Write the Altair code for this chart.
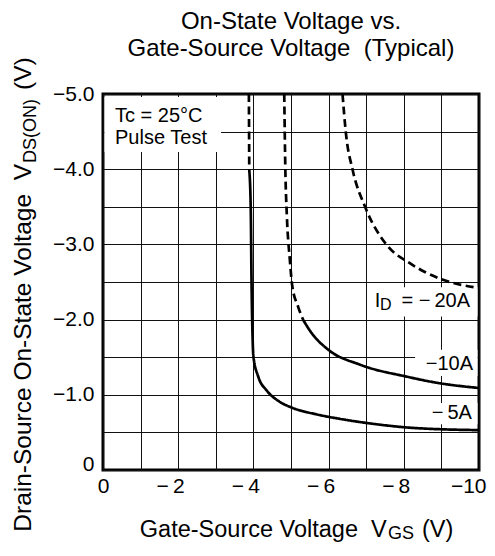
import altair as alt
import pandas as pd

FONT = "Liberation Sans"

# ---- curves (VGS in V, VDS(ON) in V) ----
vgs_5a_ext = [-3.88, -3.89]
vds_5a_ext = [-5.0, -3.99]
vgs_5a = [-3.89, -3.93, -3.95, -3.98, -4.00, -4.13, -4.35, -4.69, -5.02, -5.68, -6.30, -7.02, -8.24, -10.0]
vds_5a = [-3.99, -3.46, -2.53, -1.73, -1.51, -1.24, -1.06, -0.91, -0.83, -0.74, -0.68, -0.625, -0.56, -0.53]
vgs_10a_ext = [-4.82, -4.85, -4.89, -4.97, -5.03, -5.19, -5.33]
vds_10a_ext = [-5.0, -3.99, -3.38, -2.79, -2.46, -2.17, -1.99]
vgs_10a = [-5.33, -5.55, -5.99, -6.84, -8.09, -8.88, -10.0]
vds_10a = [-1.99, -1.82, -1.60, -1.40, -1.24, -1.16, -1.09]
vgs_20a = [-6.37, -6.46, -6.64, -6.97, -7.55, -8.16, -9.04, -10.0]
vds_20a = [-5.0, -4.48, -3.99, -3.50, -2.99, -2.75, -2.53, -2.42]

x_grid = [0, -1, -2, -3, -4, -5, -6, -7, -8, -9, -10]
y_grid = [0, -0.5, -1.0, -1.5, -2.0, -2.5, -3.0, -3.5, -4.0, -4.5, -5.0]

# white label backgrounds (data units)
box_x1 = [-0.04, -7.10, -8.30, -8.56]
box_x2 = [-3.14, -9.96, -9.96, -9.96]
box_y1 = [-4.96, -2.43, -1.60, -0.89]
box_y2 = [-4.23, -2.04, -1.25, -0.61]

cond_text = ["Tc = 25°C", "Pulse Test"]
cond_x = [-0.32, -0.32]
cond_y = [-4.63, -4.335]

cur_text = ["= \u2212\u200920A", "\u221210A", "\u2212\u20095A"]
cur_x = [-9.76, -9.84, -9.81]
cur_y = [-2.17, -1.33, -0.68]

# ---- build tables ----
rows = []
for name, style, xs_, ys_ in [
    ("A5", "solid", vgs_5a, vds_5a),
    ("A10ext", "dashed", vgs_10a_ext, vds_10a_ext),
    ("A10", "solid", vgs_10a, vds_10a),
    ("A20", "dashed", vgs_20a, vds_20a),
]:
    for i, (a, b) in enumerate(zip(xs_, ys_)):
        rows.append({"curve": name, "style": style, "idx": i, "vgs": a, "vds": b})
df = pd.DataFrame(rows)

ext5 = pd.DataFrame({"x": [vgs_5a_ext[0]], "y": [vds_5a_ext[0]],
                     "x2": [vgs_5a_ext[1]], "y2": [vds_5a_ext[1]]})
boxes = pd.DataFrame({"x1": box_x1, "x2": box_x2, "y1": box_y1, "y2": box_y2})
cond = pd.DataFrame({"t": cond_text, "x": cond_x, "y": cond_y})
cur = pd.DataFrame({"t": cur_text, "x": cur_x, "y": cur_y})
idl = pd.DataFrame({"x": [-7.23], "y": [-2.17], "xs": [-7.37], "ys": [-2.134]})

xs = alt.Scale(domain=[0, -10], nice=False, zero=False)
ys = alt.Scale(domain=[0, -5], nice=False, zero=False)

x_label = ("datum.value == 0 ? '0' : (datum.value == -10 ? '\u221210' : "
           "(abs(datum.value) % 2 == 0 ? '\u2212\u2009' + abs(datum.value) : ''))")
y_label = ("datum.value == 0 ? '0' : (abs(datum.value) % 1 == 0 ? "
           "'\u2212' + format(abs(datum.value), '.1f') : '')")

common_axis = dict(grid=True, ticks=False, domain=False, title=None,
                   labelFont=FONT, labelFontSize=21, labelColor="black",
                   gridColor="#111", gridWidth=1, gridOpacity=1,
                   labelFlush=False, labelOverlap=False)
xaxis = alt.Axis(values=x_grid, labelExpr=x_label, labelPadding=5,
                 labelAlign="right",
                 labelOffset={"condition": {"test": "datum.value == -10", "value": 7}, "value": 6},
                 **common_axis)
yaxis = alt.Axis(values=y_grid, labelExpr=y_label, labelPadding=9,
                 labelBaseline={"condition": {"test": "datum.value == 0", "value": "alphabetic"},
                                "value": "middle"},
                 **common_axis)

X = lambda f: alt.X(f, scale=xs, axis=xaxis)
Y = lambda f: alt.Y(f, scale=ys, axis=yaxis)

rect = alt.Chart(boxes).mark_rect(fill="white", stroke=None).encode(
    x=X("x1:Q"), x2="x2:Q", y=Y("y1:Q"), y2="y2:Q")

curves = alt.Chart(df).mark_line(
    color="black", strokeWidth=2.7, interpolate="monotone", clip=True
).encode(
    x=X("vgs:Q"), y=Y("vds:Q"), detail="curve:N", order="idx:Q",
    strokeDash=alt.StrokeDash("style:N", legend=None,
                              scale=alt.Scale(domain=["solid", "dashed"],
                                              range=[[1, 0], [8, 4.5]])),
)

ext_rule = alt.Chart(ext5).mark_rule(color="black", strokeWidth=2.7, strokeDash=[8, 4.5]).encode(
    x=X("x:Q"), y=Y("y:Q"), x2="x2:Q", y2="y2:Q")

cond_t = alt.Chart(cond).mark_text(font=FONT, fontSize=20, align="left", baseline="alphabetic",
                                   color="black").encode(x=X("x:Q"), y=Y("y:Q"), text="t:N")
cur_t = alt.Chart(cur).mark_text(font=FONT, fontSize=20, align="right", baseline="alphabetic",
                                 color="black").encode(x=X("x:Q"), y=Y("y:Q"), text="t:N")
id_i = alt.Chart(idl).mark_text(text="I", font=FONT, fontSize=20, align="left",
                                baseline="alphabetic", color="black").encode(x=X("x:Q"), y=Y("y:Q"))
id_d = alt.Chart(idl).mark_text(text="D", font=FONT, fontSize=16, align="left",
                                baseline="alphabetic", color="black").encode(x=X("xs:Q"), y=Y("ys:Q"))


def txt(text, x, y, size, align="center", angle=0):
    return alt.Chart(alt.InlineData(values=[{}])).mark_text(
        text=text, font=FONT, fontSize=size, align=align, baseline="alphabetic",
        angle=angle, color="black").encode(x=alt.value(x), y=alt.value(y))


NB = "\u00a0"
title1 = txt("On-State Voltage vs.", 188, -64.7, 24)
title2 = txt("Gate-Source Voltage" + NB + " (Typical)", 188, -38, 24)

xt1 = txt("Gate-Source Voltage" + NB + " V", 283.7, 442.5, 23.5, align="right")
xt2 = txt("GS", 285, 444.5, 18, align="left")
xt3 = txt("(V)", 319, 442.5, 23.5, align="left")

yt1 = txt("Drain-Source On-State Voltage" + NB + " V", -72.5, 70, 24.5, align="right", angle=270)
yt2 = txt("DS(ON)", -67.5, 69, 18, align="left", angle=270)
yt3 = txt("(V)", -72.5, -4, 24.5, align="left", angle=270)

chart = alt.layer(
    rect, curves, ext_rule, cond_t, cur_t, id_i, id_d,
    title1, title2, xt1, xt2, xt3, yt1, yt2, yt3
).properties(
    width=376, height=376,
    autosize=alt.AutoSizeParams(type="none"),
    padding={"left": 95, "top": 86, "right": 8, "bottom": 72},
).configure_view(stroke="black", strokeWidth=3)

chart.save("out.html", embed_options={"renderer": "svg", "actions": False})
